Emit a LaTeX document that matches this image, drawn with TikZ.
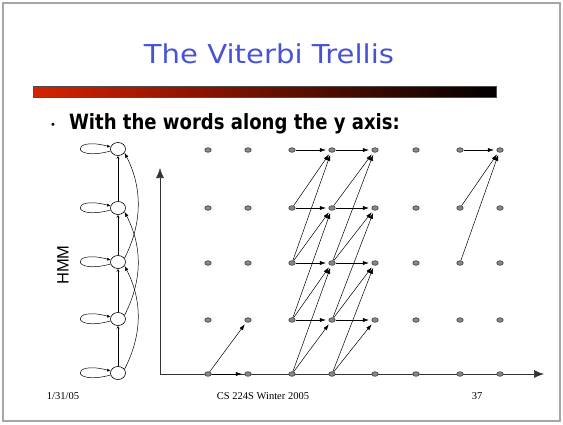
\documentclass[tikz,border=0pt]{standalone}
\usepackage{fontspec}
\setmainfont{Liberation Serif}
\newfontfamily\headfont{DejaVu Sans}
\newfontfamily\armfont{Liberation Sans}
\usetikzlibrary{shapes.geometric,arrows.meta}
\definecolor{titleblue}{RGB}{72,82,214}
\definecolor{barred}{RGB}{214,34,0}
\definecolor{dotfill}{RGB}{135,135,135}
\tikzset{
  dot/.style={ellipse, minimum width=6.5pt, minimum height=4.6pt, inner sep=0pt,
              draw=black!75, fill=dotfill, line width=0.6pt},
  state/.style={ellipse, minimum width=15pt, minimum height=13pt, inner sep=0pt,
                draw, line width=0.6pt},
  arr/.style={-{Latex[length=6pt,width=4pt]}, line width=0.5pt, shorten >=2.5pt},
  axis/.style={-{Latex[length=10pt,width=8pt]}, line width=0.7pt, black!80},
  loopar/.style={-{Latex[length=3.5pt,width=3pt]}, line width=0.5pt},
  uparr/.style={-{Stealth[length=3pt,width=3pt,open]}, line width=0.5pt},
  curvearr/.style={-{Latex[length=5pt,width=3.5pt]}, line width=0.5pt},
  foot/.style={font=\fontsize{10.5}{12}\selectfont, anchor=base},
}
\begin{document}
\begin{tikzpicture}[x=1pt,y=-1pt]
\useasboundingbox (0,0) rectangle (563,424);
% slide frame
\draw[gray!70, line width=1.2pt] (3,3) rectangle (560,421);

% heading and rule
\node[font=\headfont\fontsize{26}{30}\selectfont, text=titleblue, anchor=base, xscale=1.12]
  (title) at (269,63) {The Viterbi Trellis};
\shade[left color=barred, right color=black] (33,86) rectangle (496,97);
\draw[black!70, line width=0.6pt] (33,86) rectangle (496,97);

% bullet line
\node[font=\headfont\fontsize{10}{12}\selectfont, anchor=base] (bul) at (53,128) {•};
\node[font=\headfont\bfseries\fontsize{21}{25}\selectfont, anchor=base west, xscale=0.86]
  (line1) at (66,129) {With the words along the y axis:};

% HMM state chain
\node[font=\armfont\fontsize{16.5}{20}\selectfont, rotate=90] (hmm) at (63,265) {HMM};
\foreach \y [count=\i] in {149,208,262,319,373}
  \node[state] (s\i) at (118,\y) {};
\foreach \i in {1,...,5}
  \draw[loopar] (s\i.195) .. controls +(-40,11) and +(-40,-11) .. (s\i.165);
\foreach \a/\b in {5/4,4/3,3/2,2/1}
  \draw[uparr] (s\a) -- (s\b);
\foreach \a/\b in {3/1,4/2,5/3}
  \draw[curvearr] (s\a.30) .. controls +(18,-35) and +(18,35) .. (s\b.-30);

% axes
\coordinate (orig) at (160,374);
\coordinate (ytip) at (160,168);
\coordinate (xtip) at (544,374);
\draw[axis] (orig) -- (ytip);
\draw[axis] (orig) -- (xtip);

% trellis points
\foreach \x [count=\c] in {208,248,292,332,375,416,460,500}
  \foreach \y [count=\r] in {150,208,263,320,374}
    \node[dot] (d\c\r) at (\x,\y) {};

% transitions
\draw[arr] (d15) -- (d25);
\draw[arr] (d15) -- (d24);
\foreach \p/\q in {3/4,4/5}
  \foreach \a/\b in {1/1,2/1,2/2,3/1,3/2,3/3,4/2,4/3,4/4,5/3,5/4}
    \draw[arr] (d\p\a) -- (d\q\b);
\foreach \a in {1,2,3}
  \draw[arr] (d7\a) -- (d81);

% footer
\node[foot] (date) at (63,399) {1/31/05};
\node[foot] (course) at (263,399) {CS 224S Winter 2005};
\node[foot] (page) at (477,399) {37};
\end{tikzpicture}
\end{document}
